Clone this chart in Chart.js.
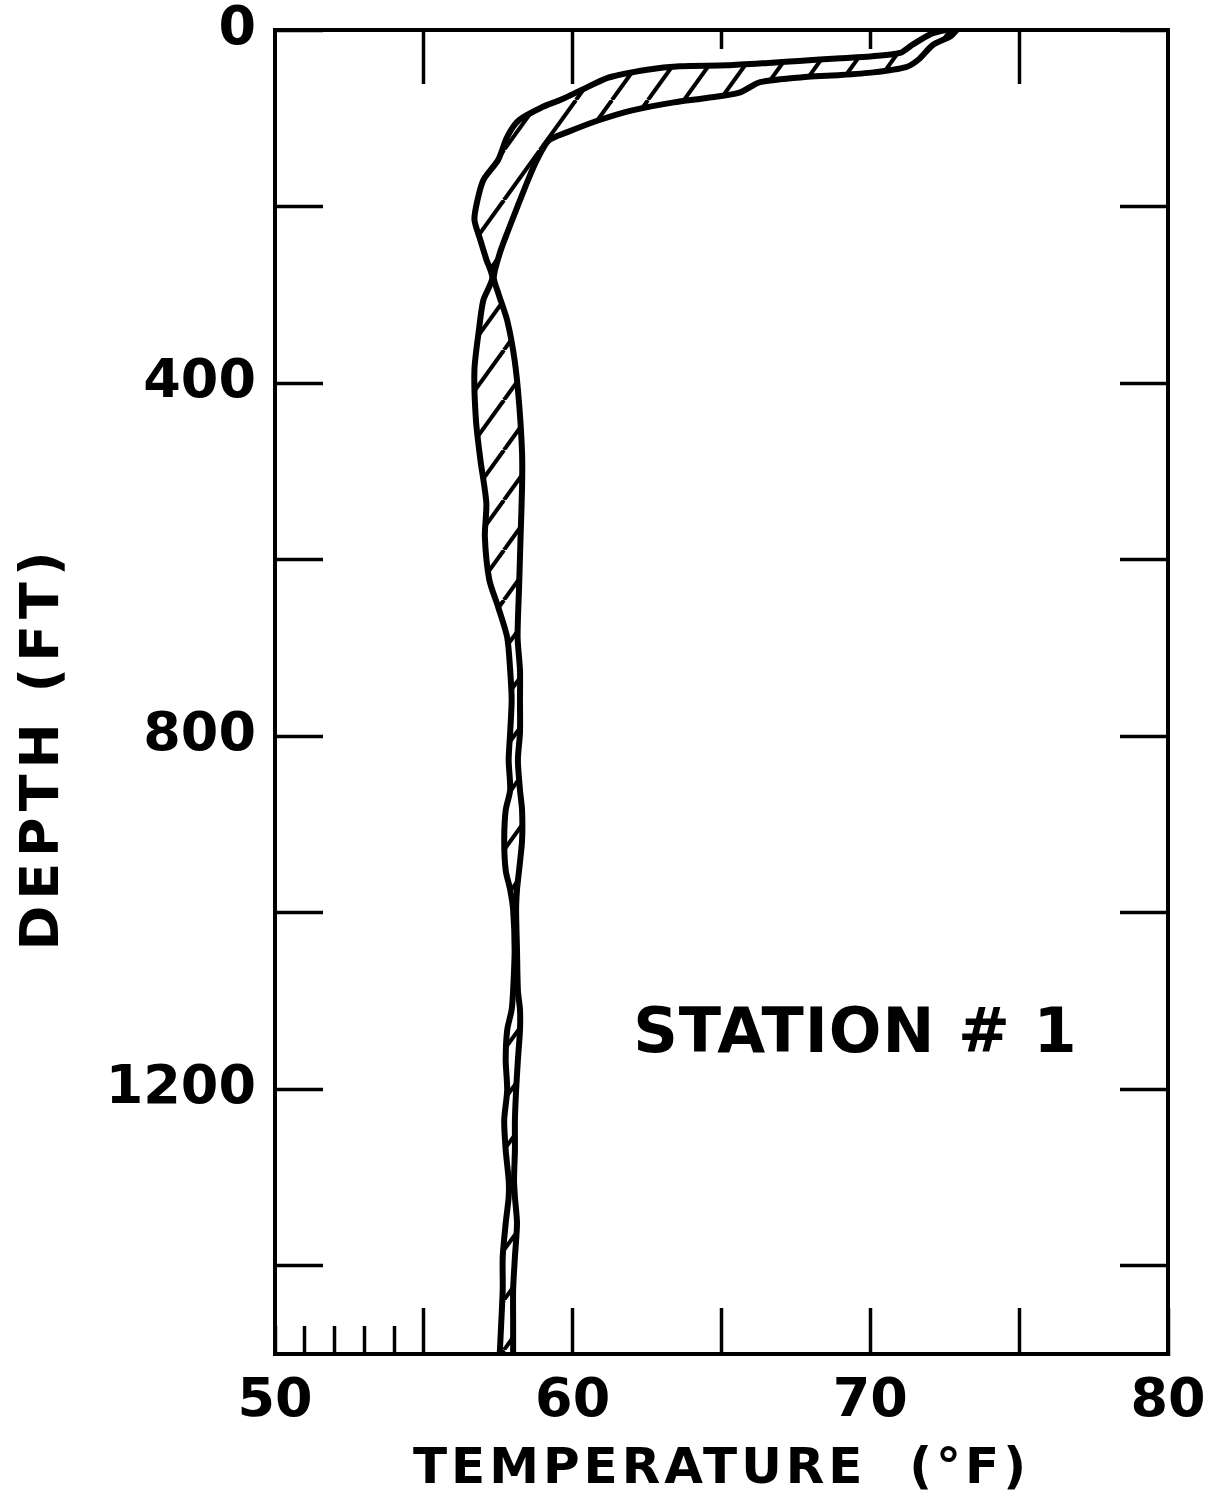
<!DOCTYPE html>
<html lang="en">
<head>
<meta charset="UTF-8">
<title>Station #1 Temperature Profile</title>
<script src="https://cdn.jsdelivr.net/npm/chart.js"></script>
<style>
    body { margin: 0; background: #fff; }
    canvas { display: block; }
</style>
</head>
<body>
<canvas id="myChart" width="1215" height="1498"></canvas>

<script>
// coldest readings: left / upper edge of the band
const coldTemp = [72.5, 72.0, 71.4, 71.0, 70.0, 69.0, 67.6, 66.7, 65.2, 63.6,
    62.5, 61.2, 60.3, 59.6, 59.0, 58.2, 57.8, 57.5, 57.0, 56.8,
    56.7, 56.9, 57.1, 57.3, 57.0, 56.85, 56.7, 56.75, 56.9, 57.1,
    57.05, 57.2, 57.5, 57.8, 57.9, 57.95, 57.9, 57.85, 57.9, 57.75,
    57.7, 57.75, 57.9, 58.0, 58.05, 58.0, 57.95, 57.8, 57.75, 57.8,
    57.7, 57.75, 57.85, 57.85, 57.75, 57.65, 57.65, 57.6, 57.55];
const coldDepth = [0, 5, 17, 26, 30, 32, 35, 37, 40, 41,
    45, 54, 68, 79, 87, 102, 121, 147, 170, 193,
    215, 238, 260, 281, 306, 340, 385, 442, 487, 536,
    574, 623, 654, 688, 725, 759, 796, 827, 861, 884,
    918, 952, 974, 997, 1042, 1088, 1110, 1133, 1167, 1201,
    1235, 1269, 1303, 1322, 1352, 1390, 1427, 1465, 1500];

// warmest readings: right / lower edge of the band
const warmTemp = [72.9, 72.7, 72.1, 71.6, 71.2, 70.1, 69.0, 67.9, 66.3, 65.6,
    64.5, 63.4, 62.0, 60.9, 59.8, 59.2, 58.8, 58.5, 58.1, 57.8,
    57.55, 57.35, 57.5, 57.8, 58.05, 58.2, 58.3, 58.3, 58.25, 58.2,
    58.15, 58.23, 58.23, 58.23, 58.16, 58.23, 58.3, 58.3, 58.2, 58.13,
    58.1, 58.13, 58.16, 58.23, 58.23, 58.16, 58.1, 58.06, 58.06, 58.03,
    58.06, 58.13, 58.06, 58.0, 58.0, 58.0];
const warmDepth = [0, 7, 17, 34, 42, 48, 51, 53, 59, 71,
    77, 82, 91, 102, 116, 125, 147, 170, 204, 230,
    253, 280, 298, 329, 374, 423, 479, 518, 574, 631,
    688, 725, 759, 796, 827, 861, 884, 918, 952, 974,
    997, 1042, 1088, 1110, 1133, 1167, 1201, 1235, 1269, 1303,
    1322, 1352, 1390, 1427, 1465, 1500];

const tempTicks = [50, 51, 52, 53, 54, 55, 60, 65, 70, 75, 80];
const tempLabels = [50, 60, 70, 80];
const depthTicks = [0, 200, 400, 600, 800, 1000, 1200, 1400];
const depthLabels = [0, 400, 800, 1200];

const coldPoints = coldTemp.map((t, i) => ({x: t, y: coldDepth[i]}));
const warmPoints = warmTemp.map((t, i) => ({x: t, y: warmDepth[i]}));
// closed outline of the band, only used for the hatched fill
const bandPoints = coldPoints.concat(warmPoints.slice().reverse());

// the top edge has two short marks, the rest are long
const shortTop = [65, 70];
const topTicks = tempTicks.filter(v => v % 5 === 0 && v > 50 && v < 80);

function makeHatch() {
    const w = 36, h = 50;
    const c = document.createElement('canvas');
    c.width = w;
    c.height = h;
    const g = c.getContext('2d');
    g.strokeStyle = '#000';
    g.lineWidth = 4;
    for (let k = -1; k <= 1; k++) {
        g.beginPath();
        g.moveTo(k * w, h);
        g.lineTo(k * w + w, 0);
        g.stroke();
    }
    return g.createPattern(c, 'repeat');
}

const labelFont = {family: '"DejaVu Sans", sans-serif', size: 54, weight: 'bold'};
const frame = {display: true, color: '#000', width: 4};

function noPadding(s) {
    s.paddingTop = 0; s.paddingBottom = 0; s.paddingLeft = 0; s.paddingRight = 0;
}

function topAxis(values, len, showBorder) {
    return {
        type: 'linear',
        position: 'top',
        min: 50,
        max: 80,
        afterBuildTicks: s => { s.ticks = values.map(v => ({value: v})); },
        afterFit: s => { s.height = 0; noPadding(s); },
        ticks: {display: false},
        grid: {drawOnChartArea: false, tickLength: -len, tickColor: '#000', tickWidth: 3.5},
        border: showBorder ? frame : {display: false}
    };
}

// axis titles and the station label
const textPlugin = {
    id: 'texts',
    afterDraw(chart) {
        const ctx = chart.ctx;
        const area = chart.chartArea;
        ctx.save();
        ctx.fillStyle = '#000';
        ctx.textAlign = 'center';
        ctx.textBaseline = 'middle';

        ctx.font = 'bold 50px "DejaVu Sans", sans-serif';
        ctx.letterSpacing = '4px';
        ctx.fillText('TEMPERATURE  (°F)', (area.left + area.right) / 2, 1470);

        ctx.font = 'bold 54px "DejaVu Sans", sans-serif';
        ctx.letterSpacing = '6px';
        ctx.save();
        ctx.translate(44, 748);
        ctx.rotate(-Math.PI / 2);
        ctx.fillText('DEPTH (FT)', 0, 0);
        ctx.restore();

        ctx.font = 'bold 62px "DejaVu Sans", sans-serif';
        ctx.letterSpacing = '1px';
        const sx = chart.scales.x.getPixelForValue(69.5);
        const sy = chart.scales.y.getPixelForValue(1140);
        ctx.fillText('STATION # 1', sx, sy);
        ctx.restore();
    }
};

const ctx = document.getElementById('myChart').getContext('2d');
const chart = new Chart(ctx, {
    type: 'line',
    data: {
        datasets: [
            {
                label: 'Band',
                data: bandPoints,
                borderWidth: 0,
                borderColor: 'rgba(0,0,0,0)',
                backgroundColor: makeHatch(),
                fill: 'shape',
                pointRadius: 0,
                tension: 0.25,
                order: 3
            },
            {
                label: 'Minimum',
                data: coldPoints,
                borderColor: '#000',
                borderWidth: 6,
                borderJoinStyle: 'round',
                borderCapStyle: 'round',
                pointRadius: 0,
                fill: false,
                tension: 0.25,
                order: 1
            },
            {
                label: 'Maximum',
                data: warmPoints,
                borderColor: '#000',
                borderWidth: 6,
                borderJoinStyle: 'round',
                borderCapStyle: 'round',
                pointRadius: 0,
                fill: false,
                tension: 0.25,
                order: 1
            }
        ]
    },
    options: {
        responsive: false,
        animation: false,
        events: [],
        layout: {padding: {top: 30, right: 47, bottom: 0, left: 0}},
        plugins: {
            legend: {display: false},
            tooltip: {enabled: false}
        },
        scales: {
            x: {
                type: 'linear',
                position: 'bottom',
                min: 50,
                max: 80,
                afterBuildTicks: s => { s.ticks = tempTicks.map(v => ({value: v})); },
                afterFit: s => { s.height = 144; noPadding(s); },
                ticks: {
                    autoSkip: false,
                    maxRotation: 0,
                    minRotation: 0,
                    padding: 62,
                    color: '#000',
                    font: labelFont,
                    callback: v => tempLabels.includes(v) ? String(v) : ''
                },
                grid: {
                    drawOnChartArea: false,
                    tickLength: -46,
                    tickColor: '#000',
                    tickWidth: 3.5,
                    tickBorderDash: c => (c.tick && c.tick.value < 55) ? [30, 200] : []
                },
                border: frame
            },
            x2: topAxis(topTicks.filter(v => !shortTop.includes(v)), 54, true),
            x3: topAxis(shortTop, 19, false),
            y: {
                type: 'linear',
                position: 'left',
                reverse: true,
                min: 0,
                max: 1500,
                afterBuildTicks: s => { s.ticks = depthTicks.map(v => ({value: v})); },
                afterFit: s => { s.width = 275; noPadding(s); },
                ticks: {
                    autoSkip: false,
                    padding: 67,
                    color: '#000',
                    font: labelFont,
                    callback: v => depthLabels.includes(v) ? String(v) : ''
                },
                grid: {
                    drawOnChartArea: false,
                    tickLength: -48,
                    tickColor: '#000',
                    tickWidth: 3.5
                },
                border: frame
            },
            y2: {
                type: 'linear',
                position: 'right',
                reverse: true,
                min: 0,
                max: 1500,
                afterBuildTicks: s => { s.ticks = depthTicks.map(v => ({value: v})); },
                afterFit: s => { s.width = 0; noPadding(s); },
                ticks: {display: false},
                grid: {
                    drawOnChartArea: false,
                    tickLength: -48,
                    tickColor: '#000',
                    tickWidth: 3.5
                },
                border: frame
            }
        }
    },
    plugins: [textPlugin]
});
</script>
</body>
</html>
